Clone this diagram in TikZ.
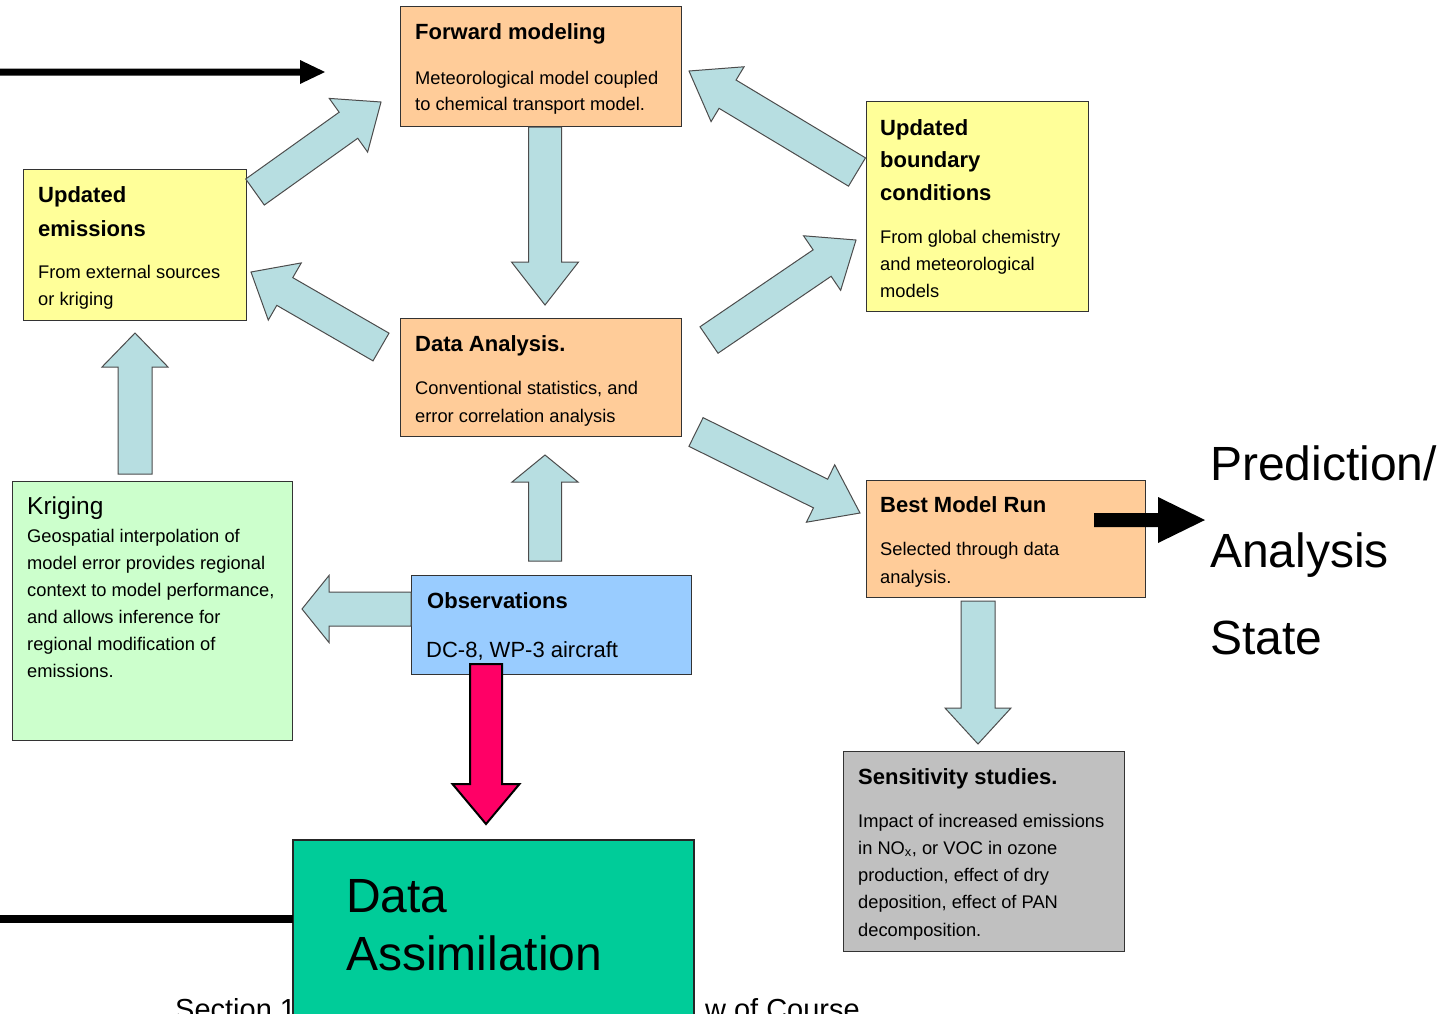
\documentclass[tikz,border=0pt]{standalone}
\usepackage{fontspec}
\setmainfont{Liberation Sans}
\usetikzlibrary{calc}
\definecolor{peach}{HTML}{FFCC99}
\definecolor{lyellow}{HTML}{FFFF99}
\definecolor{lgreen}{HTML}{CCFFCC}
\definecolor{lblue}{HTML}{99CCFF}
\definecolor{lgray}{HTML}{C0C0C0}
\definecolor{teal2}{HTML}{00CC99}
\definecolor{arrowblue}{RGB}{183,222,225}
\definecolor{hotred}{HTML}{FF0066}
\newcommand\myblockarrow[6][]{%
  \coordinate (tmpN) at ($(#3)!#6!(#2)$);
  \filldraw[blockarr,#1] ($(#2)!#4!-90:(#3)$) -- ($(tmpN)!#4!-90:(#3)$) -- ($(tmpN)!#5!-90:(#3)$) -- (#3)
    -- ($(tmpN)!#5!90:(#3)$) -- ($(tmpN)!#4!90:(#3)$) -- ($(#2)!#4!90:(#3)$) -- cycle;}
\tikzset{
  box/.style={draw=black!80, line width=1pt, anchor=north west, inner sep=0, outer sep=0},
  ttl/.style={font=\bfseries\fontsize{22}{26}\selectfont, anchor=base west, inner sep=0},
  body/.style={font=\fontsize{18.3}{22}\selectfont, anchor=base west, inner sep=0},
  big/.style={font=\fontsize{48}{56}\selectfont, anchor=base west, inner sep=0},
  blockarr/.style={fill=arrowblue, draw=black!70, line width=1pt, line join=miter},
}
\begin{document}
\begin{tikzpicture}[x=1pt,y=-1pt]
\useasboundingbox (0,0) rectangle (1456,1013);
\clip (0,0) rectangle (1456,1013);
\fill[white] (0,0) rectangle (1456,1013);

% footer text (partly hidden)
\node[font=\fontsize{29}{34}\selectfont, anchor=base west, inner sep=0] (sec1) at (175,1019) {Section 1};
\node[font=\fontsize{29}{34}\selectfont, anchor=base east, inner sep=0] (sec2) at (860,1019) {w of Course};

% boxes
\node[box, fill=peach, minimum width=281pt, minimum height=120pt] (fm) at (400,6) {};
\node[box, fill=lyellow, minimum width=223pt, minimum height=151pt] (ue) at (23,169) {};
\node[box, fill=lyellow, minimum width=222pt, minimum height=210pt] (ubc) at (866,101) {};
\node[box, fill=peach, minimum width=281pt, minimum height=118pt] (da) at (400,318) {};
\node[box, fill=peach, minimum width=279pt, minimum height=117pt] (bmr) at (866,480) {};
\node[box, fill=lgreen, minimum width=280pt, minimum height=259pt] (kr) at (12,481) {};
\node[box, fill=lblue, minimum width=280pt, minimum height=99pt] (obs) at (411,575) {};
\node[box, fill=lgray, minimum width=281pt, minimum height=200pt] (sens) at (843,751) {};
\node[box, fill=teal2, draw=black!85, line width=1.6pt, minimum width=401pt, minimum height=220pt] (dass) at (293,840) {};

% texts
\node[ttl] (fmt) at (415,39) {Forward modeling};
\foreach \t [count=\i] in {{Meteorological model coupled},{to chemical transport model.}}
  \node[body] (fmb\i) at (415,{84+26*(\i-1)}) {\t};

\foreach \t [count=\i] in {Updated,emissions}
  \node[ttl] (uet\i) at (38,{202+34*(\i-1)}) {\t};
\foreach \t [count=\i] in {{From external sources},{or kriging}}
  \node[body] (ueb\i) at (38,{278+27*(\i-1)}) {\t};

\foreach \t [count=\i] in {Updated,boundary,conditions}
  \node[ttl] (ubct\i) at (880,{135+32.5*(\i-1)}) {\t};
\foreach \t [count=\i] in {{From global chemistry},{and meteorological},{models}}
  \node[body] (ubcb\i) at (880,{243+27*(\i-1)}) {\t};

\node[ttl] (dat) at (415,351) {Data Analysis.};
\foreach \t [count=\i] in {{Conventional statistics, and},{error correlation analysis}}
  \node[body] (dab\i) at (415,{394+28*(\i-1)}) {\t};

\node[ttl] (bmrt) at (880,512) {Best Model Run};
\foreach \t [count=\i] in {{Selected through data},{analysis.}}
  \node[body] (bmrb\i) at (880,{555+28*(\i-1)}) {\t};

\node[font=\fontsize{24.5}{28}\selectfont, anchor=base west, inner sep=0] (krt) at (27,514) {Kriging};
\foreach \t [count=\i] in {{Geospatial interpolation of},{model error provides regional},{context to model performance,},{and allows inference for},{regional modification of},{emissions.}}
  \node[body] (krb\i) at (27,{542+27*(\i-1)}) {\t};

\node[ttl] (obst) at (427,608) {Observations};
\node[font=\fontsize{22}{26}\selectfont, anchor=base west, inner sep=0] (obsb) at (426,657) {DC-8, WP-3 aircraft};

\node[ttl] (senst) at (858,784) {Sensitivity studies.};
\foreach \t [count=\i] in {{Impact of increased emissions},{in NO\textsubscript{x}, or VOC in ozone},{production, effect of dry},{deposition, effect of PAN},{decomposition.}}
  \node[body] (sensb\i) at (858,{827+27.25*(\i-1)}) {\t};

\node[big] (dat1) at (346,912) {Data};
\node[big] (dat2) at (346,970) {Assimilation};

\node[font=\fontsize{48}{56}\selectfont, anchor=base west, inner sep=0] (pr1) at (1210,480) {Prediction/};
\node[font=\fontsize{48}{56}\selectfont, anchor=base west, inner sep=0] (pr2) at (1210,567) {Analysis};
\node[font=\fontsize{48}{56}\selectfont, anchor=base west, inner sep=0] (pr3) at (1210,654) {State};

% block arrow end points
\coordinate (a1s) at (545,127);  \coordinate (a1e) at (545,305);
\coordinate (a2s) at (255,192);  \coordinate (a2e) at (381,102);
\coordinate (a3s) at (381,347);  \coordinate (a3e) at (251,272);
\coordinate (a4s) at (709,340);  \coordinate (a4e) at (856,240);
\coordinate (a5s) at (857,172);  \coordinate (a5e) at (689,71);
\coordinate (a6s) at (696,432);  \coordinate (a6e) at (860,513);
\coordinate (a7s) at (135,474);  \coordinate (a7e) at (135,333);
\coordinate (a8s) at (545,561);  \coordinate (a8e) at (545,455);
\coordinate (a9s) at (obs.west |- 0,609);  \coordinate (a9e) at (302,609);
\coordinate (a10s) at (978,601); \coordinate (a10e) at (978,744);
\coordinate (a11s) at (486,664); \coordinate (a11e) at (486,824);

\myblockarrow{a1s}{a1e}{16.5pt}{33.5pt}{43pt}
\myblockarrow{a2s}{a2e}{16pt}{33pt}{40pt}
\myblockarrow{a3s}{a3e}{16pt}{33pt}{39pt}
\myblockarrow{a4s}{a4e}{16pt}{33pt}{41pt}
\myblockarrow{a5s}{a5e}{16.5pt}{32pt}{45pt}
\myblockarrow{a6s}{a6e}{16pt}{32pt}{44pt}
\myblockarrow{a7s}{a7e}{17pt}{33pt}{34pt}
\myblockarrow{a8s}{a8e}{16.5pt}{33pt}{27pt}
\myblockarrow{a9s}{a9e}{17pt}{33.5pt}{27pt}
\myblockarrow{a10s}{a10e}{17pt}{33pt}{36pt}
\myblockarrow[fill=hotred, draw=black, line width=2pt]{a11s}{a11e}{16pt}{33.5pt}{40pt}

% black arrows
\coordinate (k1s) at (0,72); \coordinate (k1e) at (325,72);
\fill[black] (k1s) ++(0,-3.5) -- (300,68.5) -- (300,60) -- (k1e) -- (300,84) -- (300,75.5) -- (0,75.5) -- cycle;
\coordinate (k2s) at (0,919);
\fill[black] (k2s) ++(0,-4) rectangle (dass.west |- 0,923);
\coordinate (k3s) at (1094,520); \coordinate (k3e) at (1205,520);
\fill[black] (k3s) ++(0,-7) -- (1158,513) -- (1158,497) -- (k3e) -- (1158,543) -- (1158,527) -- (1094,527) -- cycle;
\end{tikzpicture}
\end{document}
